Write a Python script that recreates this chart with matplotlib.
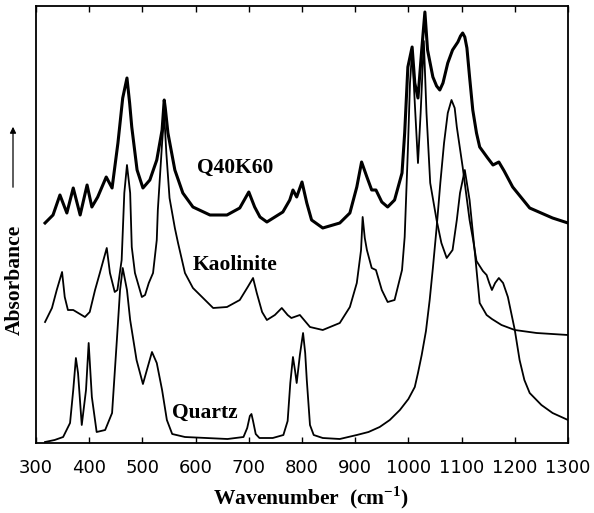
import matplotlib
matplotlib.use('Agg')
import matplotlib.pyplot as plt
import numpy as np

# ---------------- data (absorbance, arbitrary units) ----------------
quartz_wn = [317, 335, 351, 364, 370, 375, 379, 386, 394, 399, 405, 414, 430, 443, 452, 458,
             463, 471, 477, 489, 501, 510, 518, 527, 537, 546, 556, 580, 620, 660, 690, 697,
             702, 705, 708, 713, 720, 745, 765, 773, 778, 783, 787, 790, 796, 802, 806, 809,
             815, 822, 839, 871, 903, 925, 946, 965, 984, 1000, 1012, 1018, 1025, 1033, 1040,
             1046, 1053, 1060, 1067, 1074, 1081, 1087, 1091, 1102, 1115, 1121, 1128, 1140, 1147,
             1152, 1157, 1163, 1170, 1178, 1187, 1200, 1209, 1218, 1228, 1250, 1271, 1300]
quartz_ab = [0.01, 0.03, 0.06, 0.20, 0.53, 0.85, 0.70, 0.18, 0.53, 1.00, 0.46, 0.11, 0.13, 0.30,
             1.03, 1.53, 1.75, 1.53, 1.23, 0.83, 0.59, 0.76, 0.91, 0.80, 0.53, 0.23, 0.09, 0.06,
             0.05, 0.04, 0.06, 0.15, 0.27, 0.29, 0.22, 0.09, 0.05, 0.05, 0.08, 0.22, 0.60, 0.86,
             0.72, 0.60, 0.88, 1.10, 0.90, 0.63, 0.18, 0.08, 0.05, 0.04, 0.08, 0.11, 0.16, 0.23,
             0.33, 0.44, 0.56, 0.70, 0.88, 1.12, 1.43, 1.75, 2.15, 2.60, 3.00, 3.30, 3.43, 3.35,
             3.16, 2.76, 2.23, 2.05, 1.82, 1.72, 1.68, 1.60, 1.53, 1.60, 1.65, 1.60, 1.46, 1.13,
             0.83, 0.63, 0.50, 0.38, 0.30, 0.23]

kaol_wn = [317, 330, 339, 349, 354, 360, 370, 392, 401, 411, 420, 433, 439, 448, 453, 461, 466,
           471, 477, 480, 486, 499, 505, 512, 520, 527, 529, 537, 541, 545, 551, 561, 567, 580,
           595, 614, 633, 659, 683, 698, 708, 715, 725, 734, 749, 762, 773, 780, 796, 815, 839,
           871, 890, 903, 911, 914, 918, 922, 931, 939, 950, 961, 974, 988, 993, 999, 1003, 1007,
           1012, 1018, 1023, 1029, 1034, 1041, 1053, 1062, 1072, 1083, 1091, 1097, 1106, 1115,
           1125, 1134, 1147, 1157, 1175, 1200, 1241, 1300]
kaol_ab = [1.21, 1.35, 1.53, 1.71, 1.46, 1.33, 1.33, 1.26, 1.31, 1.53, 1.70, 1.95, 1.70, 1.51,
           1.53, 1.83, 2.50, 2.78, 2.50, 1.96, 1.70, 1.46, 1.48, 1.60, 1.70, 2.03, 2.33, 3.00,
           3.28, 2.90, 2.45, 2.15, 2.00, 1.70, 1.55, 1.45, 1.35, 1.36, 1.43, 1.56, 1.65, 1.50,
           1.31, 1.23, 1.28, 1.35, 1.28, 1.25, 1.28, 1.16, 1.13, 1.20, 1.36, 1.60, 1.93, 2.26,
           2.05, 1.93, 1.75, 1.73, 1.53, 1.41, 1.43, 1.73, 2.06, 2.93, 3.60, 3.92, 3.40, 2.80,
           3.30, 4.02, 3.30, 2.60, 2.23, 2.00, 1.85, 1.93, 2.23, 2.50, 2.73, 2.43, 1.90, 1.40,
           1.28, 1.24, 1.18, 1.13, 1.10, 1.08]

mix_wn = [317, 332, 345, 358, 370, 383, 396, 405, 416, 432, 443, 454, 463, 471, 476, 480, 490,
          501, 514, 527, 537, 541, 543, 548, 561, 576, 595, 627, 659, 683, 700, 711, 721, 734,
          749, 764, 777, 783, 790, 800, 809, 818, 839, 871, 890, 903, 912, 922, 931, 939, 950,
          961, 974, 988, 993, 999, 1007, 1012, 1018, 1025, 1031, 1036, 1046, 1053, 1059, 1065,
          1074, 1083, 1093, 1098, 1102, 1106, 1110, 1115, 1121, 1128, 1134, 1149, 1159, 1170,
          1180, 1196, 1228, 1271, 1300]
mix_ab = [2.20, 2.28, 2.48, 2.30, 2.55, 2.28, 2.58, 2.36, 2.46, 2.66, 2.55, 3.00, 3.45, 3.65,
          3.40, 3.16, 2.73, 2.55, 2.63, 2.83, 3.13, 3.43, 3.35, 3.10, 2.73, 2.50, 2.36, 2.28,
          2.28, 2.35, 2.51, 2.36, 2.26, 2.21, 2.26, 2.31, 2.43, 2.53, 2.46, 2.61, 2.40, 2.23,
          2.15, 2.20, 2.30, 2.56, 2.81, 2.66, 2.53, 2.53, 2.41, 2.36, 2.43, 2.70, 3.10, 3.76,
          3.96, 3.60, 3.45, 3.93, 4.31, 3.93, 3.66, 3.57, 3.53, 3.60, 3.80, 3.93, 4.01, 4.07,
          4.10, 4.06, 3.95, 3.66, 3.33, 3.10, 2.96, 2.85, 2.78, 2.81, 2.72, 2.56, 2.35, 2.25,
          2.20]

xticks = [300, 400, 500, 600, 700, 800, 900, 1000, 1100, 1200, 1300]

# ---------------- plotting ----------------
plt.rcParams['mathtext.fontset'] = 'custom'
plt.rcParams['mathtext.rm'] = 'Liberation Serif:bold'
plt.rcParams['mathtext.bf'] = 'Liberation Serif:bold'

fig = plt.figure(figsize=(5.94, 5.13), dpi=100)
ax = fig.add_axes([36/594, 70/513, 532/594, 437/513])

ax.plot(quartz_wn, quartz_ab, color='black', lw=1.3)
ax.plot(kaol_wn, kaol_ab, color='black', lw=1.3)
ax.plot(mix_wn, mix_ab, color='black', lw=2.2)

ax.set_xlim(300, 1300)
ax.set_ylim(0, 4.37)
ax.set_xticks(xticks)
ax.set_yticks([])
ax.tick_params(axis='x', direction='in', top=True, length=4, width=1, pad=11.5,
               labelsize=13)
for s in ax.spines.values():
    s.set_linewidth(1.3)

lab = dict(family='Liberation Serif', weight='bold', fontsize=15.5, ha='center', va='center')
ax.text(674, 2.75, 'Q40K60', **lab)
ax.text(674, 1.78, 'Kaolinite', **lab)
ax.text(618, 0.30, 'Quartz', **lab)

fig.text(311/594, 1 - 498/513, 'Wavenumber  (cm$^{\\mathrm{-1}}$)', family='Liberation Serif',
         weight='bold', fontsize=15.5, ha='center', va='center')
fig.text(15/594, 1 - 280/513, 'Absorbance', family='Liberation Serif', weight='bold',
         fontsize=15.5, rotation=90, ha='center', va='center')
fig.add_artist(matplotlib.patches.FancyArrowPatch((13/594, 1 - 190/513), (13/594, 1 - 124/513),
               transform=fig.transFigure, arrowstyle='-|>', mutation_scale=9,
               color='black', lw=0.9))

fig.savefig('out.png', dpi=100)
